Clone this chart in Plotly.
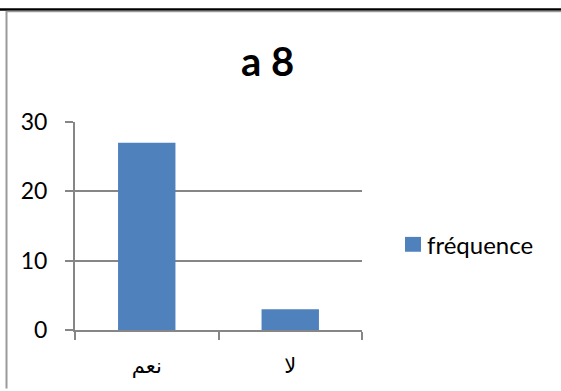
import plotly.graph_objects as go

# Survey answers and counts
categories = ["نعم", "لا"]
frequence = [27, 3]
y_ticks = [0, 10, 20, 30]
title_text = "a 8"
series_name = "fréquence"

W, H = 561, 391
L, R, T, B = 75, 199, 122, 59
pw, ph = W - L - R, H - T - B

def px_x(x):
    return (x - L) / pw

def px_y(y):
    return (H - B - y) / ph

grid = "#868686"
bar_color = "#4F81BD"
font_family = "Lato, 'Open Sans', 'Liberation Sans', sans-serif"

fig = go.Figure()
fig.add_trace(go.Bar(
    x=categories, y=frequence, name=series_name,
    marker=dict(color=bar_color, line=dict(width=0)),
    width=0.4, showlegend=False,
))

fig.update_layout(
    width=W, height=H,
    margin=dict(l=L, r=R, t=T, b=B, pad=0),
    paper_bgcolor="white", plot_bgcolor="white",
    font=dict(family=font_family, color="black", size=16),
    showlegend=False,
    annotations=[
        dict(text="<b>" + title_text + "</b>", x=px_x(267), y=px_y(60),
             xref="paper", yref="paper", showarrow=False,
             font=dict(size=40, family=font_family), xanchor="center", yanchor="middle"),
        # legend entry label
        dict(text=series_name, x=px_x(425), y=px_y(246),
             xref="paper", yref="paper", showarrow=False,
             font=dict(size=24, family=font_family), xanchor="left", yanchor="middle"),
    ],
    xaxis=dict(
        type="category", showgrid=False, showline=True, linecolor=grid, linewidth=2,
        ticks="outside", tickson="boundaries", ticklen=8, tickcolor=grid, tickwidth=2,
        tickfont=dict(size=21, family="'DejaVu Sans', sans-serif"), ticklabelstandoff=16,
        range=[-0.5, 1.5], fixedrange=True,
    ),
    yaxis=dict(
        range=[0, 30], tickvals=y_ticks, showgrid=True, gridcolor=grid, gridwidth=2,
        showline=True, linecolor=grid, linewidth=2, zeroline=False,
        ticks="outside", ticklen=8, tickcolor=grid, tickwidth=2,
        tickfont=dict(size=23), ticklabelstandoff=13, fixedrange=True,
    ),
    shapes=[
        # legend swatch
        dict(type="rect", xref="paper", yref="paper", x0=px_x(405), x1=px_x(421),
             y0=px_y(238), y1=px_y(253), fillcolor=bar_color, line=dict(width=0)),
        # top black rule
        dict(type="line", xref="paper", yref="paper", x0=px_x(0), x1=px_x(W),
             y0=px_y(8.5), y1=px_y(8.5), line=dict(color="black", width=2.5)),
        # frame: top gray line and left gray line
        dict(type="line", xref="paper", yref="paper", x0=px_x(6.5), x1=px_x(W),
             y0=px_y(10.5), y1=px_y(10.5), line=dict(color="#9a9a9a", width=1.5)),
        dict(type="line", xref="paper", yref="paper", x0=px_x(6.5), x1=px_x(6.5),
             y0=px_y(10), y1=px_y(H), line=dict(color="#9a9a9a", width=2)),
    ],
)

fig.write_html("out.html")
